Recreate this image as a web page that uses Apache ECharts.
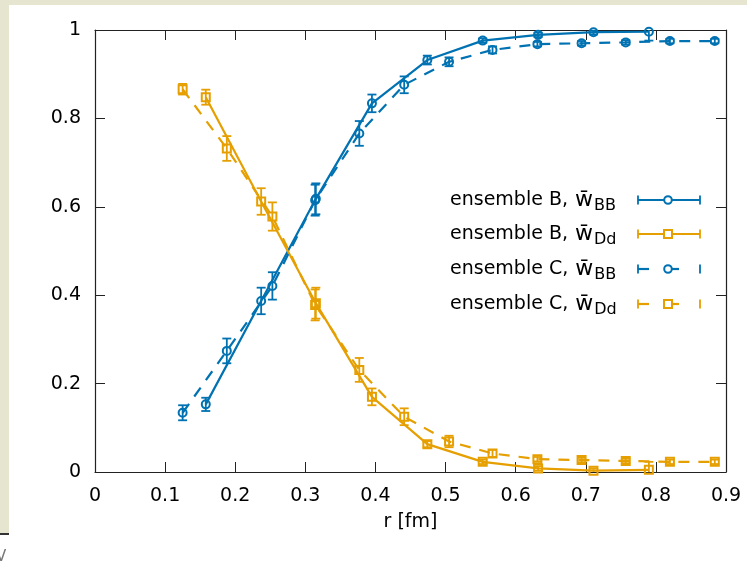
<!DOCTYPE html>
<html>
<head>
<meta charset="utf-8">
<script src="https://cdn.jsdelivr.net/npm/echarts@6/dist/echarts.min.js"></script>
<style>
html,body{margin:0;padding:0;background:#fff;}
#c{width:747px;height:568px;}
</style>
</head>
<body>
<div id="c"></div>
<script>
// ---- data ----
const rB = [0.158, 0.237, 0.315, 0.395, 0.474, 0.553, 0.632, 0.711, 0.790];
const wBB_B = [0.153, 0.387, 0.618, 0.834, 0.932, 0.976, 0.989, 0.995, 0.996];
const errBB_B = [0.015, 0.030, 0.035, 0.020, 0.010, 0.005, 0.005, 0.005, 0.020];
const wDd_B = [0.848, 0.612, 0.382, 0.170, 0.063, 0.023, 0.008, 0.003, 0.005];
const errDd_B = [0.017, 0.030, 0.035, 0.019, 0.007, 0.005, 0.005, 0.005, 0.018];

const rC = [0.125, 0.188, 0.253, 0.314, 0.377, 0.441, 0.505, 0.567, 0.631, 0.694, 0.757, 0.820, 0.884];
const wBB_C = [0.134, 0.274, 0.421, 0.615, 0.766, 0.876, 0.928, 0.955, 0.968, 0.970, 0.972, 0.975, 0.975];
const errBB_C = [0.017, 0.028, 0.031, 0.035, 0.028, 0.019, 0.010, 0.008, 0.005, 0.005, 0.005, 0.005, 0.005];
const wDd_C = [0.866, 0.732, 0.578, 0.378, 0.231, 0.125, 0.069, 0.042, 0.029, 0.027, 0.025, 0.023, 0.023];
const errDd_C = [0.012, 0.028, 0.032, 0.035, 0.027, 0.019, 0.013, 0.008, 0.005, 0.005, 0.005, 0.005, 0.005];

const xTicks = [0, 0.1, 0.2, 0.3, 0.4, 0.5, 0.6, 0.7, 0.8, 0.9];
const yTicks = [0, 0.2, 0.4, 0.6, 0.8, 1];
const seriesNames = ['ensemble B, ', 'ensemble B, ', 'ensemble C, ', 'ensemble C, '];
const seriesSubs = ['BB', 'Dd', 'BB', 'Dd'];

// ---- styles ----
const BLUE = '#0072b2';
const ORANGE = '#e69f00';
const FONT = 'DejaVu Sans';
const AXIS = '#222222';

function pts(r, w) { return r.map((x, i) => [x, w[i]]); }
function bars(r, w, e) { return r.map((x, i) => [x, w[i] - e[i], w[i] + e[i]]); }

function errSeries(r, w, e, color) {
  return {
    type: 'custom',
    clip: true,
    silent: true,
    z: 3,
    data: bars(r, w, e),
    encode: { x: 0, y: [1, 2] },
    renderItem: function (params, api) {
      const x = api.value(0);
      const lo = api.coord([x, api.value(1)]);
      const hi = api.coord([x, api.value(2)]);
      const hw = 4.5;
      const st = { stroke: color, lineWidth: 1.8, fill: 'none' };
      return {
        type: 'group',
        children: [
          { type: 'line', shape: { x1: lo[0], y1: lo[1], x2: hi[0], y2: hi[1] }, style: st },
          { type: 'line', shape: { x1: lo[0] - hw, y1: lo[1], x2: lo[0] + hw, y2: lo[1] }, style: st },
          { type: 'line', shape: { x1: hi[0] - hw, y1: hi[1], x2: hi[0] + hw, y2: hi[1] }, style: st }
        ]
      };
    }
  };
}

function lineSeries(r, w, color, symbol, dashed) {
  return {
    type: 'line',
    data: pts(r, w),
    symbol: symbol,
    symbolSize: 8,
    showSymbol: true,
    clip: true,
    z: 4,
    lineStyle: { color: color, width: 2.2, type: dashed ? [11, 9] : 'solid' },
    itemStyle: { color: 'rgba(255,255,255,0)', borderColor: color, borderWidth: 2 },
    emphasis: { disabled: true },
    animation: false
  };
}

// ---- legend (drawn as graphic) ----
const legendRows = [200, 234, 269, 304];
const legendColors = [BLUE, ORANGE, BLUE, ORANGE];
const legendSym = ['circle', 'rect', 'circle', 'rect'];
const legendDash = [false, false, true, true];
const graphics = [];
// page background pieces
graphics.push({ type: 'rect', left: 0, top: 0, shape: { width: 747, height: 5 }, style: { fill: '#e6e6d0' }, z: -10 });
graphics.push({ type: 'rect', left: 0, top: 0, shape: { width: 9, height: 533 }, style: { fill: '#e6e6d0' }, z: -10 });
graphics.push({ type: 'rect', left: 0, top: 533, shape: { width: 9, height: 2 }, style: { fill: '#333' }, z: -10 });
graphics.push({ type: 'text', left: -4, top: 550, style: { text: 'V', fontSize: 15, fontFamily: FONT, fill: '#777' }, z: -10 });

legendRows.forEach(function (y, i) {
  const c = legendColors[i];
  const st = { stroke: c, lineWidth: 1.8, fill: 'none' };
  graphics.push({
    type: 'text', x: 450, y: y, z: 10,
    style: {
      text: '{a|' + seriesNames[i] + '}{w|w\u0304}{s|' + seriesSubs[i] + '}',
      textVerticalAlign: 'middle', verticalAlign: 'middle',
      fill: '#000',
      rich: {
        a: { fontSize: 19, fontFamily: FONT, fill: '#000' },
        w: { fontSize: 22, fontFamily: FONT, fill: '#000', padding: [0, 0, 0, 1] },
        s: { fontSize: 16, fontFamily: FONT, fill: '#000', padding: [11, 0, 0, 1] }
      }
    }
  });
  const x0 = 638, x1 = 700, xm = 668;
  const kids = [];
  kids.push({ type: 'line', shape: { x1: x0, y1: y - 4.5, x2: x0, y2: y + 4.5 }, style: st });
  kids.push({ type: 'line', shape: { x1: x1, y1: y - 4.5, x2: x1, y2: y + 4.5 }, style: st });
  if (!legendDash[i]) {
    kids.push({ type: 'line', shape: { x1: x0, y1: y, x2: x1, y2: y }, style: { stroke: c, lineWidth: 2.2 } });
  } else {
    kids.push({ type: 'line', shape: { x1: x0, y1: y, x2: x0 + 11, y2: y }, style: { stroke: c, lineWidth: 2.2 } });
    kids.push({ type: 'line', shape: { x1: xm, y1: y, x2: xm + 11, y2: y }, style: { stroke: c, lineWidth: 2.2 } });
  }
  if (legendSym[i] === 'circle') {
    kids.push({ type: 'circle', shape: { cx: xm, cy: y, r: 3.8 }, style: { stroke: c, lineWidth: 2, fill: '#fff' } });
  } else {
    kids.push({ type: 'rect', shape: { x: xm - 4, y: y - 4, width: 8, height: 8 }, style: { stroke: c, lineWidth: 2, fill: '#fff' } });
  }
  graphics.push({ type: 'group', z: 10, children: kids });
});

const axisLabelStyle = { color: '#000', fontSize: 19, fontFamily: FONT };

const option = {
  backgroundColor: '#ffffff',
  animation: false,
  grid: { left: 95, right: 21, top: 30, bottom: 96, show: false },
  xAxis: [
    {
      type: 'value', min: 0, max: 0.9, interval: 0.1, position: 'bottom',
      name: 'r [fm]', nameLocation: 'middle', nameGap: 41,
      nameTextStyle: { color: '#000', fontSize: 19, fontFamily: FONT },
      axisLine: { show: true, onZero: false, lineStyle: { color: AXIS, width: 1.2 } },
      axisTick: { show: true, inside: true, length: 10, lineStyle: { color: AXIS } },
      axisLabel: Object.assign({ margin: 15, formatter: function (v) { return String(Math.round(v * 10) / 10); } }, axisLabelStyle),
      splitLine: { show: false }
    },
    {
      type: 'value', min: 0, max: 0.9, interval: 0.1, position: 'top',
      axisLine: { show: true, onZero: false, lineStyle: { color: AXIS, width: 1.2 } },
      axisTick: { show: true, inside: true, length: 10, lineStyle: { color: AXIS } },
      axisLabel: { show: false },
      splitLine: { show: false }
    }
  ],
  yAxis: [
    {
      type: 'value', min: 0, max: 1, interval: 0.2, position: 'left',
      axisLine: { show: true, onZero: false, lineStyle: { color: AXIS, width: 1.2 } },
      axisTick: { show: true, inside: true, length: 10, lineStyle: { color: AXIS } },
      axisLabel: Object.assign({ margin: 14, formatter: function (v) { return String(Math.round(v * 10) / 10); } }, axisLabelStyle),
      splitLine: { show: false }
    },
    {
      type: 'value', min: 0, max: 1, interval: 0.2, position: 'right',
      axisLine: { show: true, onZero: false, lineStyle: { color: AXIS, width: 1.2 } },
      axisTick: { show: true, inside: true, length: 10, lineStyle: { color: AXIS } },
      axisLabel: { show: false },
      splitLine: { show: false }
    }
  ],
  graphic: graphics,
  series: [
    lineSeries(rB, wBB_B, BLUE, 'circle', false),
    errSeries(rB, wBB_B, errBB_B, BLUE),
    lineSeries(rB, wDd_B, ORANGE, 'rect', false),
    errSeries(rB, wDd_B, errDd_B, ORANGE),
    lineSeries(rC, wBB_C, BLUE, 'circle', true),
    errSeries(rC, wBB_C, errBB_C, BLUE),
    lineSeries(rC, wDd_C, ORANGE, 'rect', true),
    errSeries(rC, wDd_C, errDd_C, ORANGE)
  ]
};

const chart = echarts.init(document.getElementById('c'), null, { renderer: 'canvas' });
chart.setOption(option);
</script>
</body>
</html>
